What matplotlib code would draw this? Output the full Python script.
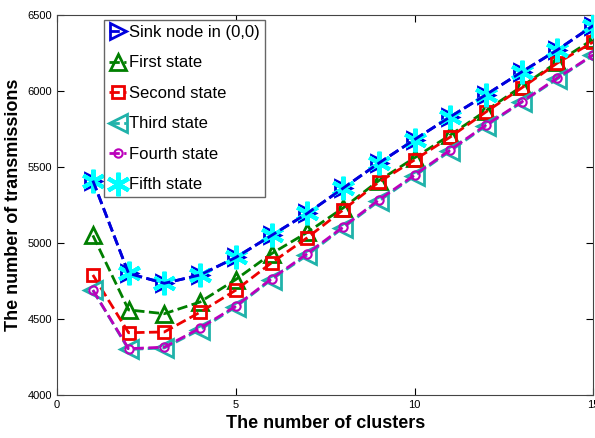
import matplotlib
matplotlib.use("Agg")
import matplotlib.pyplot as plt

plt.rcParams['font.family'] = ['Liberation Sans', 'DejaVu Sans']

clusters = list(range(1, 16))
sink = [5410, 4800, 4735, 4790, 4905, 5050, 5195, 5360, 5525, 5680, 5830, 5975, 6125, 6270, 6430]
first = [5050, 4560, 4535, 4612, 4760, 4930, 5070, 5230, 5410, 5560, 5710, 5870, 6030, 6190, 6340]
second = [4790, 4410, 4415, 4545, 4690, 4870, 5035, 5217, 5400, 5546, 5697, 5862, 6020, 6184, 6322]
third = [4690, 4300, 4310, 4430, 4580, 4760, 4920, 5100, 5275, 5440, 5605, 5770, 5925, 6080, 6235]
fourth = [4690, 4305, 4315, 4440, 4585, 4765, 4930, 5105, 5283, 5447, 5612, 5776, 5928, 6086, 6237]
fifth = sink

fig = plt.figure(figsize=(5.95, 4.38), dpi=100)
ax = fig.add_axes([0.096, 0.098, 0.901, 0.868])

ax.plot(clusters, sink, '--', color='#0000dd', marker='>', ms=11, mfc='none', mew=2, lw=2,
        label='Sink node in (0,0)', zorder=2)
ax.plot(clusters, first, '--', color='#007f00', marker='^', ms=11, mfc='none', mew=2, lw=2,
        label='First state')
ax.plot(clusters, second, '--', color='#ee0000', marker='s', ms=9, mfc='none', mew=2, lw=2,
        label='Second state')
ax.plot(clusters, third, '--', color='#20b2aa', marker='<', ms=13, mfc='none', mew=2, lw=2,
        label='Third state')
ax.plot(clusters, fourth, '--', color='#bb00bb', marker='o', ms=6, mfc='none', mew=1.5, lw=2,
        label='Fourth state')
ax.plot(clusters, fifth, linestyle='none', color='cyan', marker=(6, 2, 0), ms=17, mew=3,
        label='Fifth state', zorder=3)
# blue dashes run over the asterisks
ax.plot(clusters, sink, '--', color='#0000dd', lw=2, zorder=4)

ax.set_xlim(0, 15)
ax.set_ylim(4000, 6500)
ax.set_xticks([0, 5, 10, 15])
ax.set_yticks([4000, 4500, 5000, 5500, 6000, 6500])
ax.tick_params(direction='in', top=True, right=True, labelsize=8, length=5)
for s in ax.spines.values():
    s.set_color('#444444')

ax.set_xlabel('The number of clusters', fontsize=13, fontweight='bold')
ax.set_ylabel('The number of transmissions', fontsize=13, fontweight='bold')

ax.legend(loc='upper left', bbox_to_anchor=(0.088, 0.987), fontsize=12, fancybox=False,
          edgecolor='#666666', framealpha=1, handlelength=1.0, handletextpad=0.2,
          borderaxespad=0, labelspacing=0.93, borderpad=0.3)

fig.savefig('out.png', dpi=100)
